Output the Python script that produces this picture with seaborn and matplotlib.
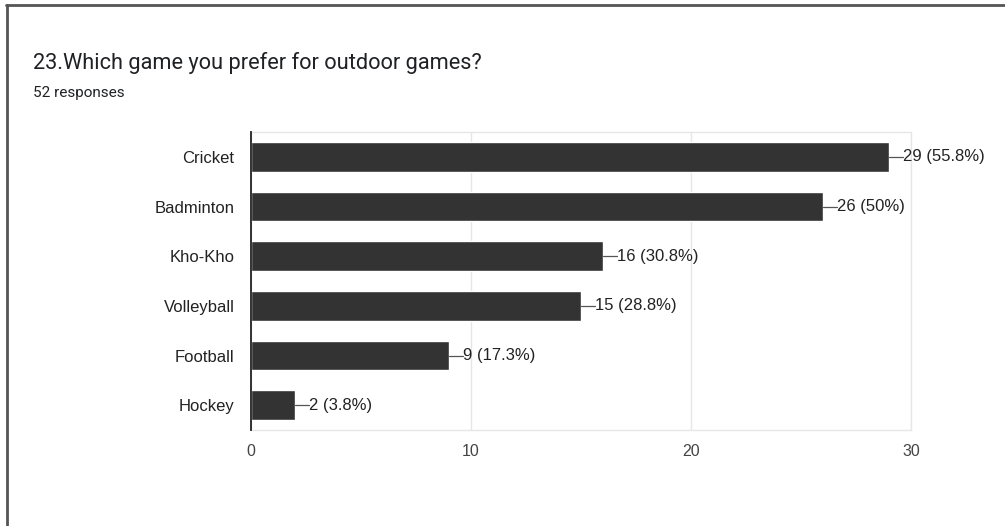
import matplotlib
matplotlib.use("Agg")
import matplotlib.pyplot as plt
import seaborn as sns
import pandas as pd
from matplotlib.lines import Line2D

games = ["Cricket", "Badminton", "Kho-Kho", "Volleyball", "Football", "Hockey"]
counts = [29, 26, 16, 15, 9, 2]
percents = ["55.8%", "50%", "30.8%", "28.8%", "17.3%", "3.8%"]
x_ticks = [0, 10, 20, 30]
total_responses = 52

df = pd.DataFrame({"game": games, "count": counts})

sns.set_theme(style="white")
plt.rcParams["font.family"] = ["Liberation Sans", "DejaVu Sans"]

fig = plt.figure(figsize=(10.05, 5.26), dpi=100)
ax = fig.add_axes([251 / 1005, 1 - 430 / 526, 660 / 1005, 298 / 526])

sns.barplot(data=df, y="game", x="count", orient="h", color="#333333",
            width=0.6, ax=ax, saturation=1, zorder=3)

ax.set_xlim(0, 30)
ax.set_ylim(len(games) - 0.5, -0.5)
ax.set_xticks(x_ticks)
ax.set_xticklabels([str(t) for t in x_ticks])
ax.set_xlabel("")
ax.set_ylabel("")
ax.tick_params(axis="x", length=0, pad=10, labelsize=11.5, colors="#444444")
ax.tick_params(axis="y", length=0, pad=12, labelsize=12, colors="#222222")
ax.grid(axis="x", color="#e6e6e6", linewidth=1, zorder=0)

for side in ["top", "right", "bottom"]:
    ax.spines[side].set_color("#e6e6e6")
    ax.spines[side].set_linewidth(1)
ax.spines["left"].set_color("#222222")
ax.spines["left"].set_linewidth(1.3)
ax.spines["left"].set_zorder(4)

# value labels with short leader lines
px_per_unit = (660 / 30)
lead = 14 / px_per_unit
for i, (c, p) in enumerate(zip(counts, percents)):
    ax.plot([c, c + lead], [i, i], color="#555555", linewidth=0.9, zorder=4,
            clip_on=False)
    ax.text(c + lead, i, f"{c} ({p})", va="center", ha="left",
            fontsize=12, color="#222222", clip_on=False)

# title and subtitle
fig.text(33 / 1005, 1 - 63 / 526, "23.Which game you prefer for outdoor games?",
         fontsize=15.7, color="#202124", family=["Roboto", "DejaVu Sans"],
         va="center", ha="left")
fig.text(33 / 1005, 1 - 93 / 526, f"{total_responses} responses",
         fontsize=11, color="#202124", family=["Roboto", "DejaVu Sans"],
         va="center", ha="left")

# partial frame: top and left edges
fig.add_artist(Line2D([6 / 1005, 1.0], [1 - 5 / 526, 1 - 5 / 526],
                      transform=fig.transFigure, color="#555555", linewidth=2))
fig.add_artist(Line2D([7 / 1005, 7 / 1005], [0.0, 1 - 5 / 526],
                      transform=fig.transFigure, color="#555555", linewidth=2))

fig.savefig("out.png", dpi=100, facecolor="white")
